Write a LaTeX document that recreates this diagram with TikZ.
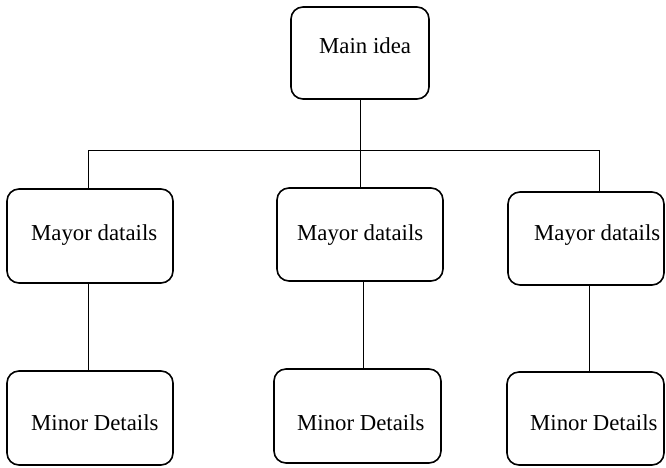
\documentclass[tikz,border=0pt]{standalone}
\usepackage{fontspec}
\setmainfont{Liberation Serif}
\begin{document}
\begin{tikzpicture}[x=1pt,y=-1pt,
  box/.style={draw, line width=1.6pt, rounded corners=12pt, minimum width=#1, inner sep=0pt, outer sep=0pt},
  lbl/.style={anchor=base west, inner sep=0pt, font=\fontsize{22.8}{27}\selectfont},
  conn/.style={draw, line width=0.8pt}]
\useasboundingbox (0,0) rectangle (666,467);
% boxes
\node[box=138pt, minimum height=92pt] (main) at (360,53) {};
\node[box=166pt, minimum height=94pt] (mL) at (90,236) {};
\node[box=166pt, minimum height=93pt] (mM) at (360,234.5) {};
\node[box=156pt, minimum height=93pt] (mR) at (586,238.5) {};
\node[box=166pt, minimum height=94pt] (nL) at (90,418) {};
\node[box=167pt, minimum height=94pt] (nM) at (357.5,416) {};
\node[box=157pt, minimum height=93pt] (nR) at (585.5,418.5) {};
% texts
\node[lbl] (tmain) at (319,53) {Main idea};
\node[lbl] (tmL) at (31,240) {Mayor datails};
\node[lbl] (tmM) at (297,240) {Mayor datails};
\node[lbl] (tmR) at (534,240) {Mayor datails};
\node[lbl] (tnL) at (31,430) {Minor Details};
\node[lbl] (tnM) at (297,430) {Minor Details};
\node[lbl] (tnR) at (530,430) {Minor Details};
% junction coordinates
\coordinate (jL) at (88,150);
\coordinate (jM) at (360,150);
\coordinate (jR) at (599,150);
\coordinate (cL) at (88,300);
\coordinate (cM) at (363,300);
\coordinate (cR) at (589,300);
% connectors
\draw[conn] (main.south) -- (jM);
\draw[conn] (jL) -- (jR);
\draw[conn] (jL) -- (jL |- mL.north);
\draw[conn] (jM) -- (jM |- mM.north);
\draw[conn] (jR) -- (jR |- mR.north);
\draw[conn] (mL.south -| cL) -- (nL.north -| cL);
\draw[conn] (mM.south -| cM) -- (nM.north -| cM);
\draw[conn] (mR.south -| cR) -- (nR.north -| cR);
\end{tikzpicture}
\end{document}
